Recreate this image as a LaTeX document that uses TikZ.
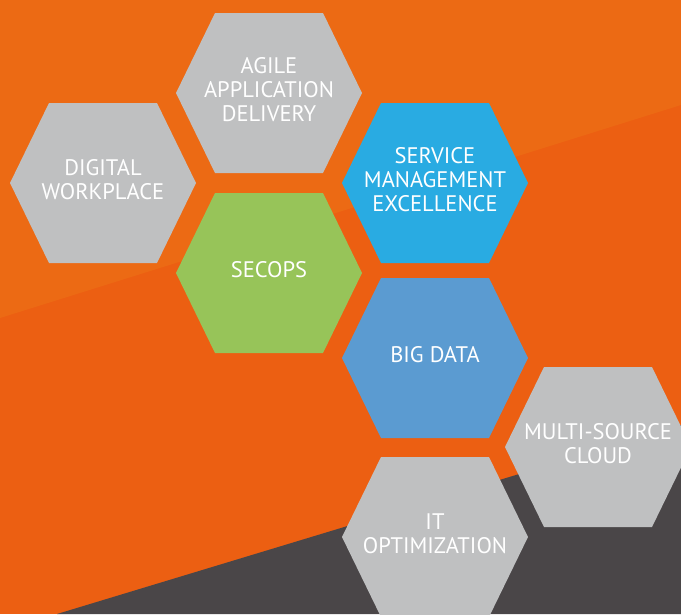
\documentclass[tikz,border=0pt]{standalone}
\usepackage{fontspec}
\setmainfont{PT Sans}
\definecolor{bgorange}{RGB}{236,95,18}
\definecolor{bandorange}{RGB}{236,106,20}
\definecolor{darkgray}{RGB}{74,70,72}
\definecolor{hexgray}{RGB}{191,192,193}
\definecolor{hexcyan}{RGB}{41,171,226}
\definecolor{hexgreen}{RGB}{151,196,89}
\definecolor{hexblue}{RGB}{91,155,209}

\begin{document}
\begin{tikzpicture}[x=1pt,y=-1pt]
		  \tikzset{
			pics/hexcell/.style args={#1}{code={
			  \fill[#1] (-93,0) -- (-54,-80) -- (54,-80) -- (93,0) -- (54,80) -- (-54,80) -- cycle;
			  },
			},
			hexlabel/.style={text=white,align=center,yshift=3pt,font=\fontsize{22.5}{24}\selectfont},
		  }
		  %BOUNDING BOX
		  \useasboundingbox (0,0) rectangle (681,614);
		  \begin{scope}
		  \clip (0,0) rectangle (681,614);
		  %BACKGROUND
		  \fill[bgorange] (0,0) rectangle (681,614);
		  \fill[bandorange] (0,0) -- (681,0) -- (681,105) -- (0,318) -- cycle;
		  %DARK CORNER
		  \fill[darkgray] (57,614) -- (681,425) -- (681,614) -- cycle;
		  %HEXAGONS
		  \foreach \x/\y/\c/\n/\t in {269/93/hexgray/agile/{AGILE\\APPLICATION\\DELIVERY},
			103/183/hexgray/digital/{DIGITAL\\WORKPLACE},
			435/183/hexcyan/service/{SERVICE\\MANAGEMENT\\EXCELLENCE},
			269/273/hexgreen/secops/{SECOPS},
			435/358/hexblue/bigdata/{BIG DATA},
			598/447/hexgray/cloud/{MULTI-SOURCE\\CLOUD},
			435/537/hexgray/itopt/{IT\\OPTIMIZATION}}{
			\draw (\x,\y) pic {hexcell={\c}};
			\node[hexlabel] (\n) at (\x,\y) {\t};
		  }
		  \end{scope}
\end{tikzpicture}
\end{document}
